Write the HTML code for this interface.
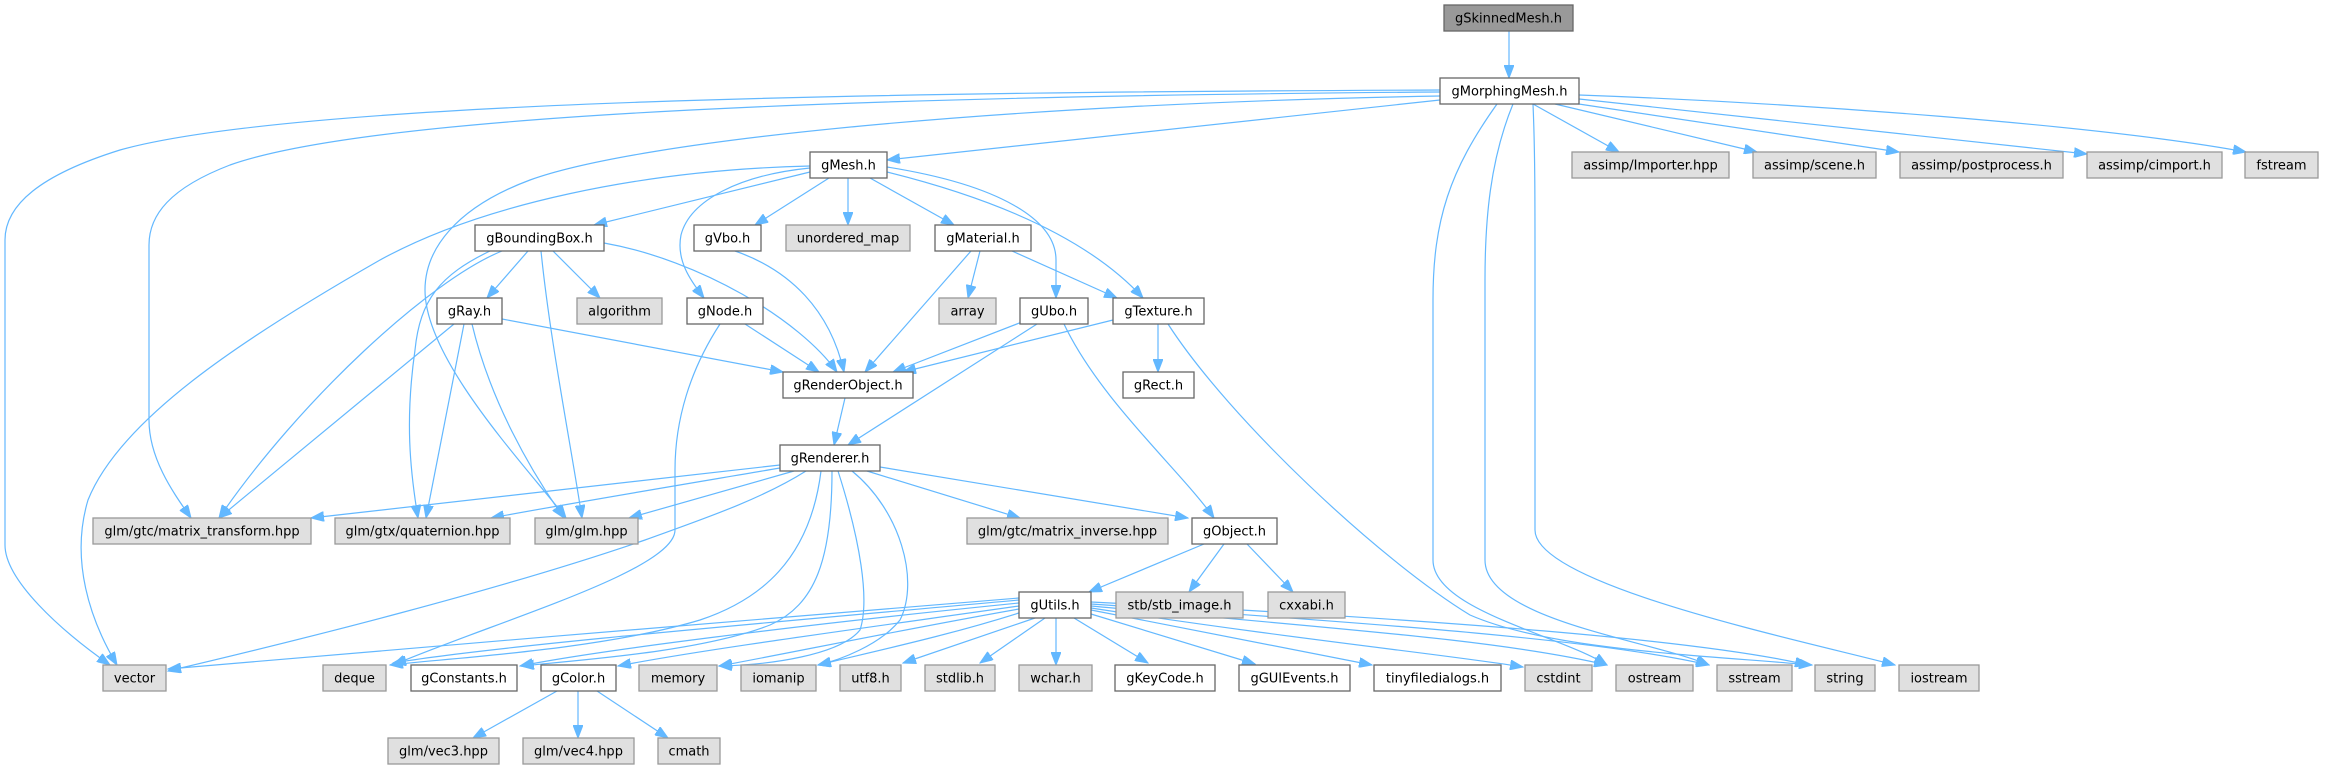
<!DOCTYPE html>
<html>
<head>
<meta charset="utf-8">
<style>
html,body{margin:0;padding:0;background:#fff;}
svg{display:block;}
.e{fill:none;stroke:#63B8FF;stroke-width:1.2;marker-end:url(#a);}
.w{fill:#fff;stroke:#666;stroke-width:1.3;}
.x{fill:#E0E0E0;stroke:#999;stroke-width:1.3;}
.r{fill:#999;stroke:#666;stroke-width:1.3;}
text{font-family:"DejaVu Sans","Liberation Sans",sans-serif;font-size:13px;fill:#000;text-anchor:middle;}
</style>
</head>
<body>
<svg width="2325" height="769" viewBox="0 0 2325 769" xmlns="http://www.w3.org/2000/svg">
<defs>
<marker id="a" markerWidth="14" markerHeight="10" refX="13" refY="5" orient="auto" markerUnits="userSpaceOnUse">
<path d="M0,0 L13,5 L0,10 z" fill="#63B8FF" stroke="#63B8FF" stroke-width="1"/>
</marker>
</defs>
<rect width="2325" height="769" fill="#fff"/>
<g>
<path class="e" d="M1509,31 L1509,78"/>
<path class="e" d="M1440,90 C900,92 300,100 120,150 C40,175 5,205 5,240 L5,545 C5,580 60,630 110,665"/>
<path class="e" d="M1440,92 C900,96 380,112 230,165 C170,188 149,215 149,245 L149,420 C149,460 175,495 191,518"/>
<path class="e" d="M1440,96 C1000,104 640,140 530,180 C455,208 425,250 425,290 C425,360 525,465 566,518"/>
<path class="e" d="M1440,100 L887,160"/>
<path class="e" d="M1533,104 L1619,152"/>
<path class="e" d="M1555,104 L1757,152"/>
<path class="e" d="M1572,103 L1899,152"/>
<path class="e" d="M1579,99 L2087,154"/>
<path class="e" d="M1579,95 C1800,103 2100,125 2246,152"/>
<path class="e" d="M1497,104 C1450,170 1433,220 1433,300 L1433,560 C1433,610 1560,635 1607,665"/>
<path class="e" d="M1513,104 C1490,160 1485,220 1485,280 L1485,560 C1485,620 1650,640 1709,665"/>
<path class="e" d="M1533,104 C1535,150 1535,200 1535,260 L1535,530 C1535,585 1800,640 1895,665"/>

<path class="e" d="M810,172 L594,225"/>
<path class="e" d="M829,178 L755,225"/>
<path class="e" d="M848,178 L848,225"/>
<path class="e" d="M870,178 L954,225"/>
<path class="e" d="M810,168 C740,175 690,200 681,235 C676,260 690,280 704,298"/>
<path class="e" d="M810,166 C640,170 480,205 380,260 C240,340 120,420 88,500 C70,560 90,620 117,665"/>
<path class="e" d="M887,167 C1000,185 1056,220 1056,260 L1056,298"/>
<path class="e" d="M887,172 C1000,200 1090,240 1143,298"/>

<path class="e" d="M528,251 L487,298"/>
<path class="e" d="M553,251 L600,298"/>
<path class="e" d="M541,251 C550,340 570,440 582,518"/>
<path class="e" d="M490,251 C440,275 420,300 415,350 C405,420 410,470 418,518"/>
<path class="e" d="M502,251 C430,280 300,400 219,518"/>
<path class="e" d="M604,243 C700,260 800,320 837,372"/>

<path class="e" d="M735,251 C790,270 830,310 844,372"/>
<path class="e" d="M745,324 L819,372"/>
<path class="e" d="M720,324 C690,370 675,420 675,470 L675,530 C675,570 500,620 393,665"/>
<path class="e" d="M502,319 L783,372"/>
<path class="e" d="M454,324 L219,518"/>
<path class="e" d="M464,324 L426,518"/>
<path class="e" d="M472,324 C490,400 530,470 564,518"/>
<path class="e" d="M980,251 L968,298"/>
<path class="e" d="M971,251 L865,372"/>
<path class="e" d="M1012,251 L1117,298"/>
<path class="e" d="M1022,322 L893,372"/>
<path class="e" d="M1037,324 L848,445"/>
<path class="e" d="M1064,324 C1100,400 1180,470 1214,518"/>
<path class="e" d="M1113,320 L903,372"/>
<path class="e" d="M1158,324 L1158,372"/>
<path class="e" d="M1168,324 C1230,420 1380,560 1470,615 C1550,650 1700,655 1812,665"/>
<path class="e" d="M845,398 L834,445"/>

<path class="e" d="M780,465 C600,485 420,505 311,518"/>
<path class="e" d="M780,468 C680,485 560,505 491,518"/>
<path class="e" d="M794,471 L629,518"/>
<path class="e" d="M867,471 L1020,518"/>
<path class="e" d="M880,467 L1188,518"/>
<path class="e" d="M806,471 C760,500 700,520 645,540 C500,590 300,640 168,671"/>
<path class="e" d="M821,471 C810,560 760,600 700,620 C600,650 450,658 390,665"/>
<path class="e" d="M832,471 C832,560 815,605 770,625 C700,652 580,660 521,666"/>
<path class="e" d="M838,471 C860,540 870,600 860,630 C840,655 770,665 719,666"/>
<path class="e" d="M852,471 C900,510 920,580 900,620 C880,645 840,660 818,665"/>

<path class="e" d="M1204,544 L1089,592"/>
<path class="e" d="M1224,544 L1189,592"/>
<path class="e" d="M1247,544 L1293,592"/>

<path class="e" d="M1019,598 C850,610 400,650 168,669"/>
<path class="e" d="M1019,600 C800,620 500,645 393,663"/>
<path class="e" d="M1019,603 C800,625 600,650 520,666"/>
<path class="e" d="M1019,606 C850,630 700,650 618,666"/>
<path class="e" d="M1019,609 C900,630 780,655 719,666"/>
<path class="e" d="M1022,612 C950,635 880,650 818,665"/>
<path class="e" d="M1035,618 L903,663"/>
<path class="e" d="M1045,618 L980,663"/>
<path class="e" d="M1056,618 L1056,665"/>
<path class="e" d="M1074,618 L1148,663"/>
<path class="e" d="M1091,614 L1255,664"/>
<path class="e" d="M1091,610 L1372,665"/>
<path class="e" d="M1091,608 C1300,640 1450,655 1523,667"/>
<path class="e" d="M1091,606 C1350,630 1500,640 1607,665"/>
<path class="e" d="M1091,604 C1400,625 1600,640 1709,665"/>
<path class="e" d="M1091,602 C1450,620 1700,640 1808,665"/>

<path class="e" d="M557,691 L473,738"/>
<path class="e" d="M578,691 L578,738"/>
<path class="e" d="M597,691 L668,738"/>
</g>

<g>
<rect class="r" x="1444" y="5" width="129" height="26"/><text x="1508.5" y="22.5">gSkinnedMesh.h</text>
<rect class="w" x="1440" y="78" width="139" height="26"/><text x="1509.5" y="95.5">gMorphingMesh.h</text>

<rect class="w" x="810" y="152" width="77" height="26"/><text x="848.5" y="169.5">gMesh.h</text>
<rect class="x" x="1572" y="152" width="157" height="26"/><text x="1650.5" y="169.5">assimp/Importer.hpp</text>
<rect class="x" x="1753" y="152" width="123" height="26"/><text x="1814.5" y="169.5">assimp/scene.h</text>
<rect class="x" x="1900" y="152" width="163" height="26"/><text x="1981.5" y="169.5">assimp/postprocess.h</text>
<rect class="x" x="2087" y="152" width="135" height="26"/><text x="2154.5" y="169.5">assimp/cimport.h</text>
<rect class="x" x="2245" y="152" width="73" height="26"/><text x="2281.5" y="169.5">fstream</text>

<rect class="w" x="475" y="225" width="129" height="26"/><text x="539.5" y="242.5">gBoundingBox.h</text>
<rect class="w" x="694" y="225" width="67" height="26"/><text x="727.5" y="242.5">gVbo.h</text>
<rect class="x" x="786" y="225" width="124" height="26"/><text x="848" y="242.5">unordered_map</text>
<rect class="w" x="935" y="225" width="96" height="26"/><text x="983" y="242.5">gMaterial.h</text>

<rect class="w" x="437" y="298" width="65" height="26"/><text x="469.5" y="315.5">gRay.h</text>
<rect class="x" x="577" y="298" width="85" height="26"/><text x="619.5" y="315.5">algorithm</text>
<rect class="w" x="687" y="298" width="76" height="26"/><text x="725" y="315.5">gNode.h</text>
<rect class="x" x="939" y="298" width="57" height="26"/><text x="967.5" y="315.5">array</text>
<rect class="w" x="1020" y="298" width="68" height="26"/><text x="1054" y="315.5">gUbo.h</text>
<rect class="w" x="1113" y="298" width="91" height="26"/><text x="1158.5" y="315.5">gTexture.h</text>

<rect class="w" x="783" y="372" width="130" height="26"/><text x="848" y="389.5">gRenderObject.h</text>
<rect class="w" x="1123" y="372" width="71" height="26"/><text x="1158.5" y="389.5">gRect.h</text>

<rect class="w" x="780" y="445" width="100" height="26"/><text x="830" y="462.5">gRenderer.h</text>

<rect class="x" x="93" y="518" width="218" height="26"/><text x="202" y="535.5">glm/gtc/matrix_transform.hpp</text>
<rect class="x" x="335" y="518" width="175" height="26"/><text x="422.5" y="535.5">glm/gtx/quaternion.hpp</text>
<rect class="x" x="535" y="518" width="103" height="26"/><text x="586.5" y="535.5">glm/glm.hpp</text>
<rect class="x" x="967" y="518" width="201" height="26"/><text x="1067.5" y="535.5">glm/gtc/matrix_inverse.hpp</text>
<rect class="w" x="1192" y="518" width="85" height="26"/><text x="1234.5" y="535.5">gObject.h</text>

<rect class="w" x="1019" y="592" width="72" height="26"/><text x="1055" y="609.5">gUtils.h</text>
<rect class="x" x="1116" y="592" width="127" height="26"/><text x="1179.5" y="609.5">stb/stb_image.h</text>
<rect class="x" x="1268" y="592" width="77" height="26"/><text x="1306.5" y="609.5">cxxabi.h</text>

<rect class="x" x="103" y="665" width="63" height="26"/><text x="134.5" y="682.5">vector</text>
<rect class="x" x="323" y="665" width="63" height="26"/><text x="354.5" y="682.5">deque</text>
<rect class="w" x="411" y="665" width="106" height="26"/><text x="464" y="682.5">gConstants.h</text>
<rect class="w" x="541" y="665" width="75" height="26"/><text x="578.5" y="682.5">gColor.h</text>
<rect class="x" x="639" y="665" width="78" height="26"/><text x="678" y="682.5">memory</text>
<rect class="x" x="741" y="665" width="75" height="26"/><text x="778.5" y="682.5">iomanip</text>
<rect class="x" x="840" y="665" width="61" height="26"/><text x="870.5" y="682.5">utf8.h</text>
<rect class="x" x="925" y="665" width="70" height="26"/><text x="960" y="682.5">stdlib.h</text>
<rect class="x" x="1019" y="665" width="73" height="26"/><text x="1055.5" y="682.5">wchar.h</text>
<rect class="w" x="1115" y="665" width="100" height="26"/><text x="1165" y="682.5">gKeyCode.h</text>
<rect class="w" x="1239" y="665" width="111" height="26"/><text x="1294.5" y="682.5">gGUIEvents.h</text>
<rect class="w" x="1374" y="665" width="127" height="26"/><text x="1437.5" y="682.5">tinyfiledialogs.h</text>
<rect class="x" x="1525" y="665" width="67" height="26"/><text x="1558.5" y="682.5">cstdint</text>
<rect class="x" x="1616" y="665" width="77" height="26"/><text x="1654.5" y="682.5">ostream</text>
<rect class="x" x="1717" y="665" width="75" height="26"/><text x="1754.5" y="682.5">sstream</text>
<rect class="x" x="1815" y="665" width="60" height="26"/><text x="1845" y="682.5">string</text>
<rect class="x" x="1899" y="665" width="80" height="26"/><text x="1939" y="682.5">iostream</text>

<rect class="x" x="388" y="738" width="111" height="26"/><text x="443.5" y="755.5">glm/vec3.hpp</text>
<rect class="x" x="523" y="738" width="111" height="26"/><text x="578.5" y="755.5">glm/vec4.hpp</text>
<rect class="x" x="658" y="738" width="62" height="26"/><text x="689" y="755.5">cmath</text>
</g>
</svg>
</body>
</html>
